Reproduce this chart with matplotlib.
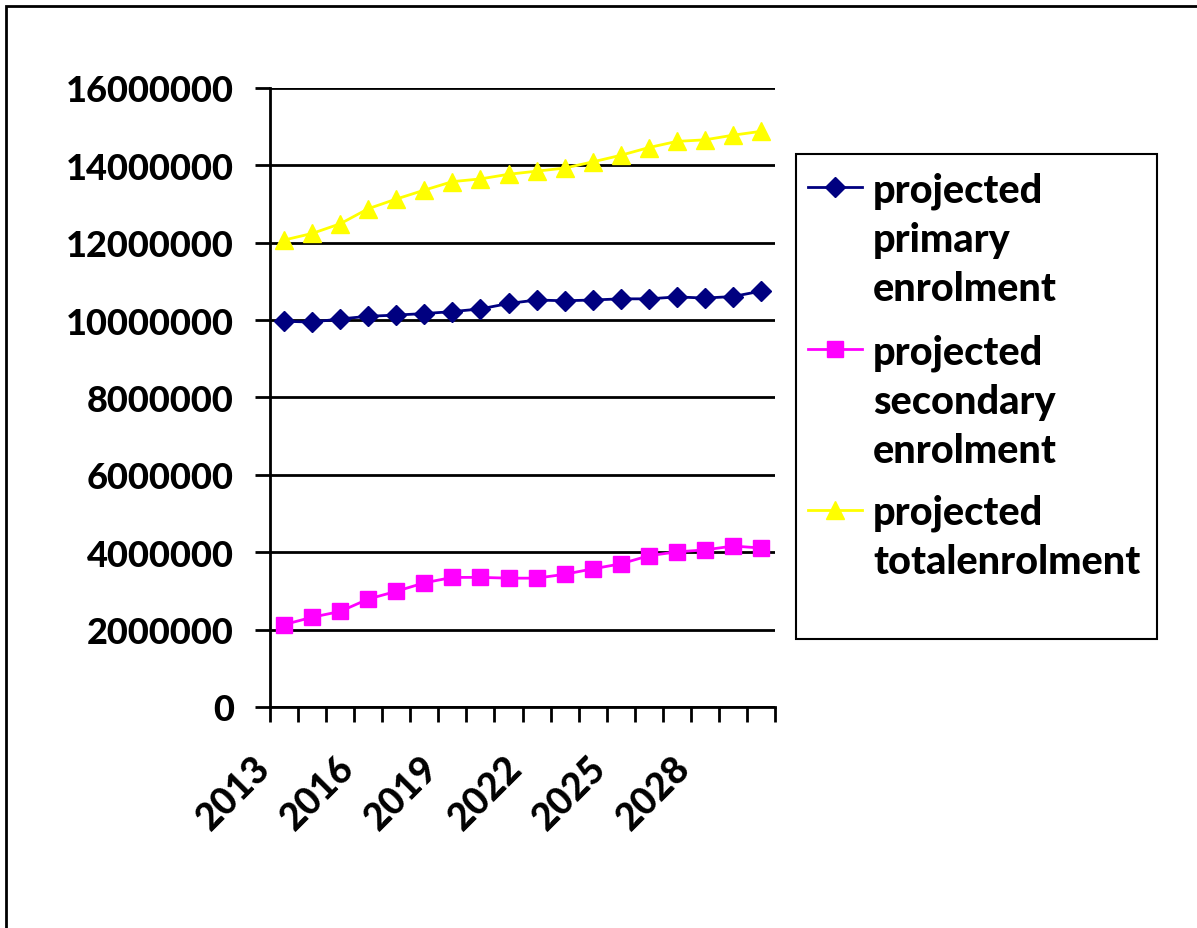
import matplotlib
matplotlib.use("Agg")
import matplotlib.pyplot as plt
from matplotlib.lines import Line2D
from matplotlib.patches import Rectangle
from matplotlib.ticker import FixedLocator, NullFormatter
from matplotlib.transforms import ScaledTranslation

plt.rcParams["font.family"] = ["Lato", "DejaVu Sans"]
plt.rcParams["font.weight"] = "black"

years = list(range(2013, 2031))
primary = [9.97e6, 9.95e6, 10.03e6, 10.10e6, 10.13e6, 10.17e6, 10.22e6, 10.29e6, 10.43e6,
           10.52e6, 10.50e6, 10.52e6, 10.55e6, 10.55e6, 10.60e6, 10.57e6, 10.61e6, 10.75e6]
secondary = [2.13e6, 2.32e6, 2.47e6, 2.79e6, 2.99e6, 3.21e6, 3.35e6, 3.35e6, 3.33e6,
             3.33e6, 3.43e6, 3.57e6, 3.70e6, 3.91e6, 4.01e6, 4.06e6, 4.16e6, 4.11e6]
total = [12.07e6, 12.24e6, 12.49e6, 12.88e6, 13.13e6, 13.36e6, 13.58e6, 13.65e6, 13.77e6,
         13.85e6, 13.93e6, 14.09e6, 14.26e6, 14.46e6, 14.62e6, 14.66e6, 14.78e6, 14.88e6]
label_lines = [["projected", "primary", "enrolment"],
               ["projected", "secondary", "enrolment"],
               ["projected", "totalenrolment"]]
yticks = list(range(0, 16000001, 2000000))
shown_years = [2013, 2016, 2019, 2022, 2025, 2028]

fig = plt.figure(figsize=(11.97, 9.29), dpi=100)
ax = fig.add_axes([0.2256, 0.2379, 0.4219, 0.6663])

x = list(range(len(years)))
l1, = ax.plot(x, primary, color="#000080", marker="D", markersize=10, lw=2)
l2, = ax.plot(x, secondary, color="#FF00FF", marker="s", markersize=11, lw=2)
l3, = ax.plot(x, total, color="#FFFF00", marker="^", markersize=13, lw=2)

ax.set_xlim(-0.5, len(years) - 0.5)
ax.set_ylim(0, 16000000)
ax.set_yticks(yticks)
ax.set_yticklabels([str(v) for v in yticks])
ax.yaxis.grid(True, color="black", lw=2)
ax.set_axisbelow(True)

# ticks sit between categories, labels sit on every third category
ax.xaxis.set_major_locator(FixedLocator([i - 0.5 for i in range(len(years) + 1)]))
ax.xaxis.set_major_formatter(NullFormatter())
ax.set_xticks([years.index(y) for y in shown_years], minor=True)
ax.set_xticklabels([str(y) for y in shown_years], minor=True,
                   rotation=45, ha="right", va="top", rotation_mode="anchor")
ax.tick_params(axis="x", which="minor", length=0, pad=31, labelsize=27)
ax.tick_params(axis="x", which="major", length=11, width=2, direction="out")
ax.tick_params(axis="y", length=11, width=2, labelsize=26, pad=15)

shift = ScaledTranslation(-32 / 100, 0, fig.dpi_scale_trans)
for t in ax.xaxis.get_minorticklabels():
    t.set_transform(t.get_transform() + shift)

for side in ("top", "right"):
    ax.spines[side].set_visible(False)
for side in ("left", "bottom"):
    ax.spines[side].set_linewidth(2)

# one small legend per series so the key sits on the first text line
blank = Line2D([], [], color="none")
for line, words, ymid in zip((l1, l2, l3), label_lines, (0.7417, 0.5673, 0.4209)):
    handles = [line] + [blank] * (len(words) - 1)
    fig.legend(handles, words, loc="center left", bbox_to_anchor=(0.675, ymid),
               frameon=False, fontsize=28.5, handlelength=1.37, handletextpad=0.27,
               labelspacing=0.30, borderpad=0, borderaxespad=0)

fig.patches.append(Rectangle((0.665, 0.311), 0.302, 0.522, transform=fig.transFigure,
                             fill=False, edgecolor="black", lw=1.5))
fig.patches.append(Rectangle((0.005, -0.1), 1.1, 1.0925, transform=fig.transFigure,
                             fill=False, edgecolor="black", lw=2))

fig.savefig("out.png", dpi=100)
